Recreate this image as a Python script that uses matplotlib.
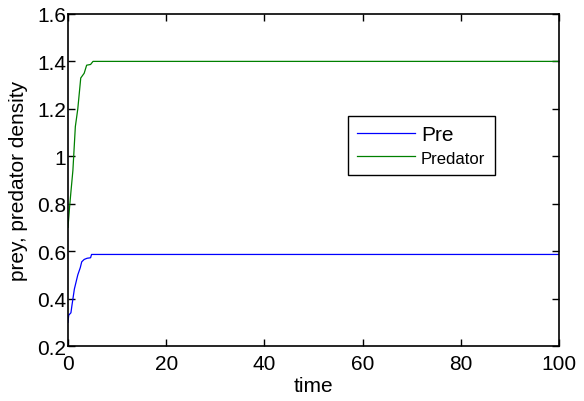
import matplotlib
matplotlib.use('Agg')
import matplotlib.pyplot as plt

# valori
t_prey = [0, 0.15, 0.6, 0.8, 1.3, 2.0, 2.5, 2.8, 3.3, 3.9, 4.6, 4.8, 100]
prey = [0.30, 0.33, 0.34, 0.37, 0.44, 0.50, 0.53, 0.555, 0.565, 0.57, 0.572, 0.586, 0.586]

t_pred = [0, 0.3, 0.6, 1.0, 1.5, 2.0, 2.6, 3.3, 3.8, 4.6, 5.1, 100]
pred = [0.70, 0.78, 0.85, 0.94, 1.125, 1.20, 1.33, 1.35, 1.384, 1.387, 1.40, 1.40]

xticks = [0, 20, 40, 60, 80, 100]
yticks = [0.2, 0.4, 0.6, 0.8, 1.0, 1.2, 1.4, 1.6]
ylabels = ['0.2', '0.4', '0.6', '0.8', '1', '1.2', '1.4', '1.6']

plt.rcParams['font.family'] = ['Liberation Sans', 'DejaVu Sans']

fig = plt.figure(figsize=(5.84, 4.02), dpi=100)
ax = fig.add_axes([0.1164, 0.1368, 0.8408, 0.826])

ax.plot(t_prey, prey, color='#0000ff', linewidth=0.9, label='Pre')
ax.plot(t_pred, pred, color='#008000', linewidth=0.9, label='Predator')

ax.set_xlim(0, 100)
ax.set_ylim(0.2, 1.6)
ax.set_xticks(xticks)
ax.set_yticks(yticks)
ax.set_yticklabels(ylabels)
ax.tick_params(direction='in', length=5, width=1, labelsize=15, top=True, right=True,
               labeltop=False, labelright=False)
ax.tick_params(axis='x', pad=6)
ax.tick_params(axis='y', pad=1.5)
for s in ax.spines.values():
    s.set_linewidth(1.2)

ax.set_xlabel('time', fontsize=15, labelpad=2)
ax.set_ylabel('prey, predator density', fontsize=15, labelpad=6)

leg = ax.legend(loc='upper left', bbox_to_anchor=(0.570, 0.693), fancybox=False,
                edgecolor='black', framealpha=1, fontsize=15, handlelength=2.75,
                borderpad=0.45, labelspacing=0.2, handletextpad=0.3,
                borderaxespad=0)
leg.get_frame().set_linewidth(1.0)
leg.get_texts()[1].set_fontsize(12)

fig.savefig('out.png', dpi=100)
